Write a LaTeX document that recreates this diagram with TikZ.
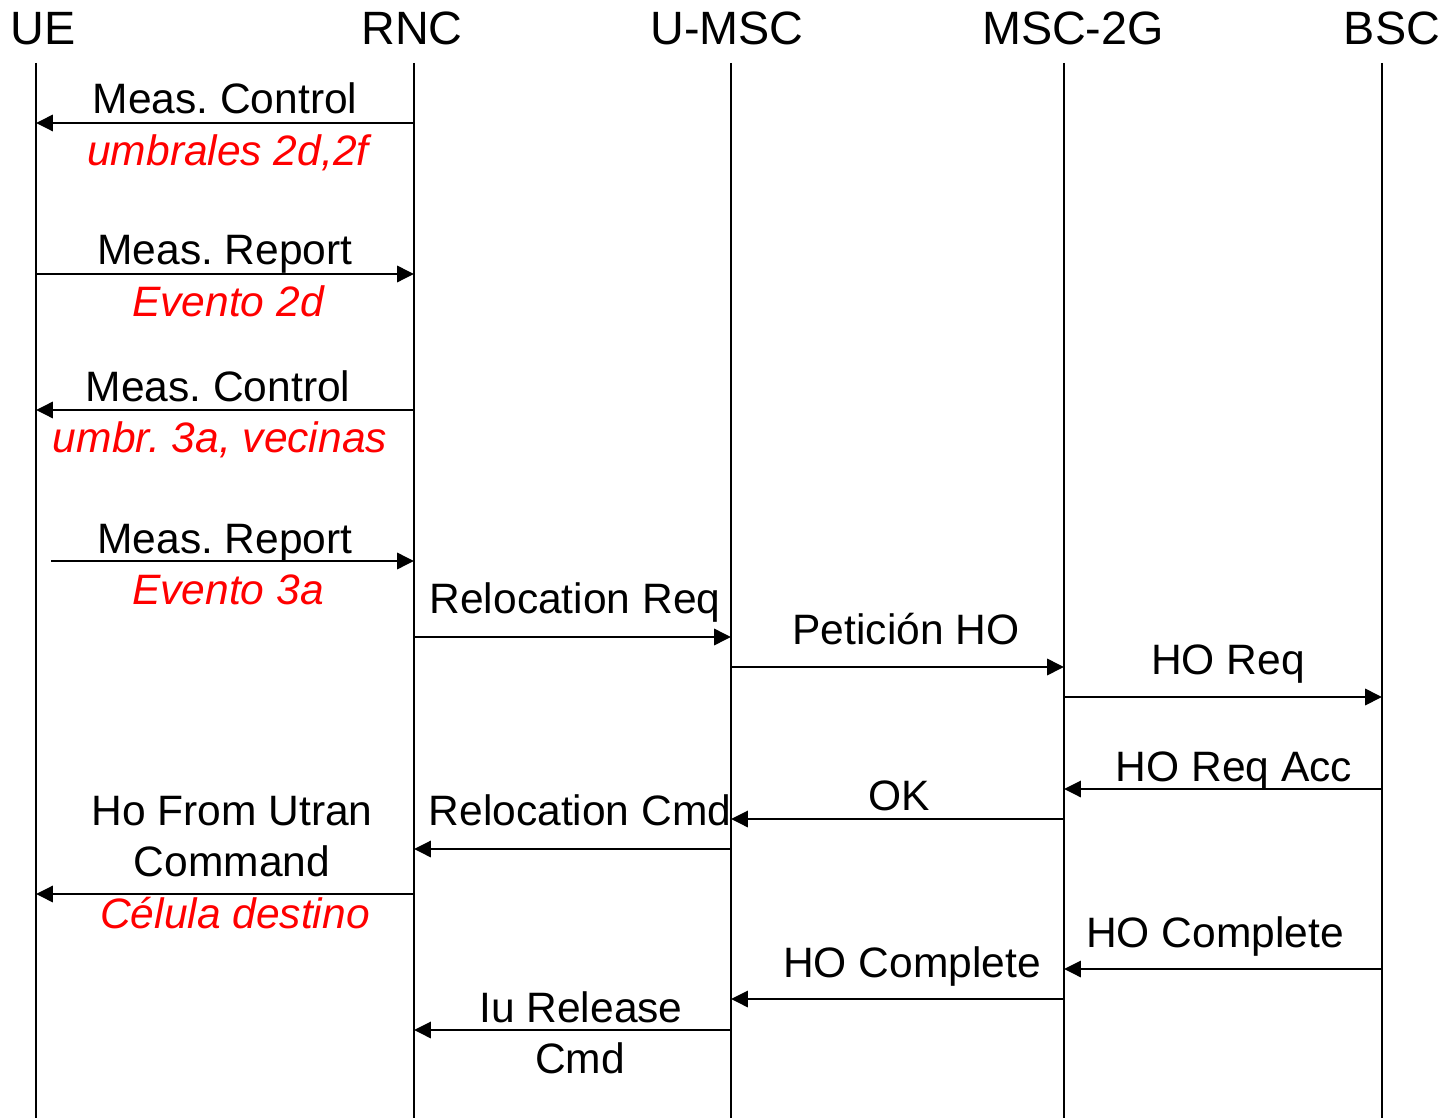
\documentclass[tikz,border=0pt]{standalone}
\usepackage{fontspec}
\setmainfont{Liberation Sans}
\usetikzlibrary{arrows.meta}
\frenchspacing

\begin{document}
\begin{tikzpicture}[
    lifeline/.style={line width=0.6pt},
    msg/.style={line width=0.75pt, -{Triangle[length=4.8pt,width=4.6pt]}},
    header/.style={anchor=base, inner sep=0pt, font=\fontsize{13.3}{15}\selectfont},
    lbl/.style={anchor=base, inner sep=0pt, font=\fontsize{12.1}{14}\selectfont},
    note/.style={lbl, text=noteColour, font=\fontsize{12.1}{14}\selectfont\itshape}
]
    \definecolor{noteColour}{HTML}{FF0000}

    % Fix the page size
    \useasboundingbox (0,0) rectangle (14.47,-11.18);

    % Define the top of every lifeline
    \coordinate (ue) at (0.36,-0.63);
    \coordinate (rnc) at (4.14,-0.63);
    \coordinate (umsc) at (7.31,-0.63);
    \coordinate (msc) at (10.64,-0.63);
    \coordinate (bsc) at (13.82,-0.63);

    % Draw headers
    \node[header] (ueName) at (0.43,-0.45) {UE};
    \node[header] (rncName) at (4.12,-0.45) {RNC};
    \node[header] (umscName) at (7.27,-0.45) {U-MSC};
    \node[header] (mscName) at (10.73,-0.45) {MSC-2G};
    \node[header] (bscName) at (13.92,-0.45) {BSC};

    % Draw lifelines
    \foreach \n in {ue,rnc,umsc,msc,bsc}
        \draw[lifeline] (\n) -- (\n |- 0,-11.18);

    % UE <-> RNC measurement messages
    \draw[msg] (rnc |- 0,-1.23) -- (ue |- 0,-1.23);
    \node[lbl] (ctrlA) at (2.25,-1.14) {Meas. Control};
    \node[note] (ctrlANote) at (2.28,-1.66) {umbrales 2d,2f};

    \draw[msg] (ue |- 0,-2.74) -- (rnc |- 0,-2.74);
    \node[lbl] (repA) at (2.25,-2.65) {Meas. Report};
    \node[note] (repANote) at (2.28,-3.17) {Evento 2d};

    \draw[msg] (rnc |- 0,-4.10) -- (ue |- 0,-4.10);
    \node[lbl] (ctrlB) at (2.18,-4.02) {Meas. Control};
    \node[note] (ctrlBNote) at (2.20,-4.53) {umbr. 3a, vecinas};

    \coordinate (repBStart) at (0.51,-5.61);
    \draw[msg] (repBStart) -- (rnc |- repBStart);
    \node[lbl] (repB) at (2.25,-5.53) {Meas. Report};
    \node[note] (repBNote) at (2.28,-6.04) {Evento 3a};

    % Relocation towards the 2G side
    \draw[msg] (rnc |- 0,-6.37) -- (umsc |- 0,-6.37);
    \node[lbl] (relReq) at (5.75,-6.13) {Relocation Req};

    \draw[msg] (umsc |- 0,-6.67) -- (msc |- 0,-6.67);
    \node[lbl] (petHO) at (9.06,-6.44) {Petición HO};

    \draw[msg] (msc |- 0,-6.97) -- (bsc |- 0,-6.97);
    \node[lbl] (hoReq) at (12.28,-6.74) {HO Req};

    % Answers back to the UE
    \draw[msg] (bsc |- 0,-7.89) -- (msc |- 0,-7.89);
    \node[lbl] (hoReqAcc) at (12.34,-7.81) {HO Req Acc};

    \draw[msg] (msc |- 0,-8.19) -- (umsc |- 0,-8.19);
    \node[lbl] (ok) at (8.99,-8.10) {OK};

    \draw[msg] (umsc |- 0,-8.49) -- (rnc |- 0,-8.49);
    \node[lbl] (relCmd) at (5.80,-8.25) {Relocation Cmd};

    \draw[msg] (rnc |- 0,-8.94) -- (ue |- 0,-8.94);
    \node[lbl] (hoCmdA) at (2.32,-8.25) {Ho From Utran};
    \node[lbl] (hoCmdB) at (2.32,-8.76) {Command};
    \node[note] (hoCmdNote) at (2.35,-9.28) {Célula destino};

    % Completion
    \draw[msg] (bsc |- 0,-9.69) -- (msc |- 0,-9.69);
    \node[lbl] (hoCompA) at (12.15,-9.47) {HO Complete};

    \draw[msg] (msc |- 0,-9.99) -- (umsc |- 0,-9.99);
    \node[lbl] (hoCompB) at (9.12,-9.77) {HO Complete};

    \draw[msg] (umsc |- 0,-10.30) -- (rnc |- 0,-10.30);
    \node[lbl] (iuRelA) at (5.81,-10.22) {Iu Release};
    \node[lbl] (iuRelB) at (5.80,-10.73) {Cmd};

\end{tikzpicture}
\end{document}
